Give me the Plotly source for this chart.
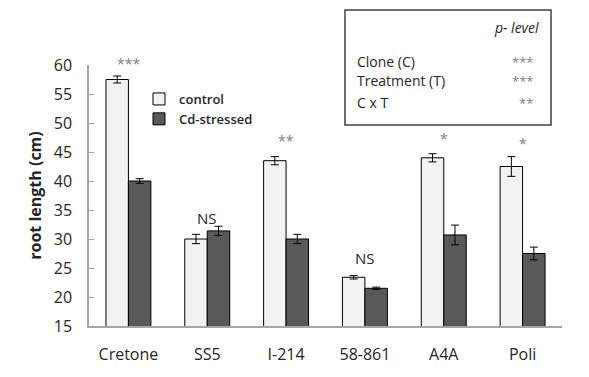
import plotly.graph_objects as go

categories = ["Cretone", "SS5", "I-214", "58-861", "A4A", "Poli"]
control = [57.5, 30.0, 43.5, 23.4, 44.0, 42.5]
control_err = [0.6, 0.8, 0.7, 0.3, 0.7, 1.7]
cd_stressed = [40.0, 31.4, 30.0, 21.5, 30.7, 27.5]
cd_err = [0.4, 0.8, 0.8, 0.2, 1.7, 1.1]
sig_labels = ["***", "NS", "**", "NS", "*", "*"]
sig_y = [60.3, 33.6, 47.0, 26.7, 47.4, 46.4]
y_ticks = [15, 20, 25, 30, 35, 40, 45, 50, 55, 60]
Y_MIN, Y_MAX = 15, 60

FONT = "Open Sans"
TXT = "#262626"

# page offset (body margin) compensation
OFF = 8
PL, PT, PR, PB = 89 - OFF, 65 - OFF, 562 - OFF, 326 - OFF
W, H = 589 - OFF, 377 - OFF
PW, PH = PR - PL, PB - PT


def px(x):
    return (x - OFF - PL) / PW


def py(y):
    return (PB - (y - OFF)) / PH


fig = go.Figure()
fig.add_trace(go.Bar(
    name="control", x=categories, y=control,
    error_y=dict(type="data", array=control_err, color="black", thickness=1, width=4),
    marker=dict(color="#f2f2f2", line=dict(color="black", width=1)),
))
fig.add_trace(go.Bar(
    name="Cd-stressed", x=categories, y=cd_stressed,
    error_y=dict(type="data", array=cd_err, color="black", thickness=1, width=4),
    marker=dict(color="#595959", line=dict(color="black", width=1)),
))

for c, s, y in zip(categories, sig_labels, sig_y):
    is_star = "*" in s
    fig.add_annotation(x=c, y=(y - Y_MIN) / (Y_MAX - Y_MIN), text=s, showarrow=False,
                       xref="x", yref="paper", yanchor="middle",
                       font=dict(family=FONT, size=14 if is_star else 15,
                                 color="#7f7f7f" if is_star else TXT))

# p-level box
fig.add_shape(type="rect", xref="paper", yref="paper",
              x0=px(345), x1=px(551), y0=py(125), y1=py(10),
              line=dict(color="#404040", width=1.5), fillcolor="white")
box_rows = [("Clone (C)", "***", 61), ("Treatment (T)", "***", 80), ("C x T", "**", 102)]
fig.add_annotation(xref="paper", yref="paper", x=px(541), y=py(28),
                   text="<i>p- level</i>", showarrow=False, xanchor="right", yanchor="middle",
                   font=dict(family=FONT, size=14, color=TXT))
for lab, st, yy in box_rows:
    fig.add_annotation(xref="paper", yref="paper", x=px(355), y=py(yy),
                       text=lab, showarrow=False, xanchor="left", yanchor="middle",
                       font=dict(family=FONT, size=14, color=TXT))
    fig.add_annotation(xref="paper", yref="paper", x=px(535), y=py(yy + 1),
                       text=st, showarrow=False, xanchor="right", yanchor="middle",
                       font=dict(family=FONT, size=13, color="#7f7f7f"))

fig.update_layout(
    width=W, height=H,
    margin=dict(l=PL, r=W - PR, t=PT, b=H - PB),
    paper_bgcolor="white", plot_bgcolor="white",
    barmode="group", bargap=0.43, bargroupgap=0,
    font=dict(family=FONT, color=TXT),
    legend=dict(x=px(139), y=py(84), xanchor="left", yanchor="top",
                font=dict(family=FONT, size=13, color=TXT, weight=600),
                bgcolor="rgba(0,0,0,0)", itemwidth=30, tracegroupgap=4),
    showlegend=True,
)
fig.update_xaxes(showline=True, linecolor="#a6a6a6", linewidth=1.5, ticks="",
                 tickfont=dict(family=FONT, size=16, color=TXT), ticklabelstandoff=13,
                 showgrid=False)
fig.update_yaxes(range=[Y_MIN, Y_MAX], tickvals=y_ticks, showline=True, linecolor="#a6a6a6",
                 linewidth=1.5, ticks="inside", ticklen=5, tickcolor="#a6a6a6",
                 tickfont=dict(family=FONT, size=16, color=TXT), ticklabelstandoff=12,
                 showgrid=False, zeroline=False,
                 title=dict(text="<b>root length (cm)</b>",
                            font=dict(family=FONT, size=16, color=TXT), standoff=8))

fig.write_html("out.html")
